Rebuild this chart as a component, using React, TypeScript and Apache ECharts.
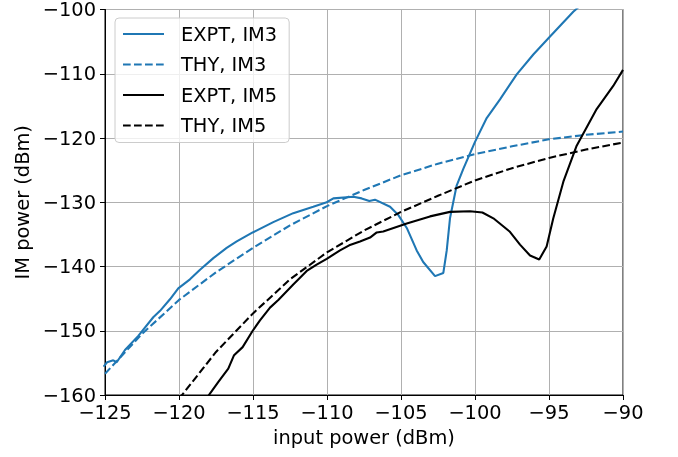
import React, { useEffect, useRef } from "react";
import * as echarts from "echarts";

const exptIm3X = [-125.1, -124.86, -124.44, -124.21, -123.65, -122.75, -121.74, -121.28, -120.61, -120.05, -119.26, -118.58, -117.68, -116.78, -116.1, -115.02, -113.63, -112.28, -110.93, -110.02, -109.57, -108.22, -107.66, -107.14, -106.76, -105.74, -105.18, -104.61, -103.94, -103.5, -102.7, -102.14, -101.91, -101.69, -101.24, -100.79, -100.0, -99.21, -98.31, -97.18, -96.06, -94.93, -93.36, -92.5];
const exptIm3Y = [-155.6, -154.9, -154.6, -154.9, -153.0, -150.8, -147.9, -146.9, -145.1, -143.4, -142.0, -140.5, -138.7, -137.1, -136.1, -134.7, -133.1, -131.7, -130.7, -130.0, -129.4, -129.15, -129.4, -129.8, -129.6, -130.7, -132.0, -134.0, -137.5, -139.3, -141.5, -141.0, -137.5, -132.5, -127.4, -124.8, -120.6, -116.9, -114.0, -110.1, -107.0, -104.2, -100.35, -98.6];

const thyIm3X = [-125, -122.5, -120, -117.5, -115, -112.5, -110, -107.5, -105, -102.5, -100, -97.5, -95, -92.5, -90];
const thyIm3Y = [-156.7, -150.5, -145.2, -140.9, -137.1, -133.6, -130.6, -128.1, -125.8, -124.0, -122.5, -121.3, -120.2, -119.5, -119.0];

const exptIm5X = [-118.1, -117.34, -116.67, -116.28, -115.7, -115.02, -114.53, -113.85, -113.29, -112.28, -111.37, -110.7, -110.02, -109.12, -108.5, -107.77, -107.09, -106.64, -106.2, -104.61, -103.04, -101.69, -100.34, -99.5, -98.76, -97.64, -96.96, -96.28, -95.66, -95.16, -94.71, -94.03, -93.13, -91.78, -90.66, -90.0];
const exptIm5Y = [-160.4, -157.95, -155.9, -153.8, -152.55, -150.0, -148.4, -146.4, -145.2, -142.8, -140.7, -139.7, -138.8, -137.5, -136.7, -136.1, -135.5, -134.7, -134.55, -133.3, -132.2, -131.5, -131.4, -131.6, -132.5, -134.6, -136.6, -138.3, -138.9, -136.9, -132.5, -126.8, -121.2, -115.5, -111.9, -109.4];

const thyIm5X = [-120, -117.5, -115, -112.5, -110, -107.5, -105, -102.5, -100, -97.5, -95, -92.5, -90];
const thyIm5Y = [-160.6, -153.3, -147.3, -142.0, -137.8, -134.4, -131.5, -129.0, -126.6, -124.7, -123.1, -121.8, -120.7];

const seriesNames = ["EXPT, IM3", "THY, IM3", "EXPT, IM5", "THY, IM5"];
const xTitle = "input power (dBm)";
const yTitle = "IM power (dBm)";

const zip = (xs: number[], ys: number[]) => xs.map((x, i) => [x, ys[i]]);
const fmt = (v: number) => String(v).replace("-", "\u2212");

export default function App() {
  const ref = useRef<HTMLDivElement>(null);
  useEffect(() => {
    if (!ref.current) return;
    const chart = echarts.init(ref.current, undefined, { renderer: "svg" });
    const font = "DejaVu Sans";
    const fs = 19.4;
    const blue = "#1f77b4";
    const mk = (name: string, data: number[][], color: string, dashed: boolean) => ({
      name,
      type: "line",
      data,
      symbol: "none",
      clip: true,
      lineStyle: { color, width: 2.08, type: dashed ? [7.7, 3.3] : "solid" },
      itemStyle: { color },
    });
    const axisCommon = {
      type: "value",
      nameLocation: "middle",
      nameTextStyle: { fontFamily: font, fontSize: fs, color: "#000" },
      axisLine: { show: true, lineStyle: { color: "#000", width: 1 } },
      axisTick: { show: true, length: 5, lineStyle: { color: "#000", width: 1 } },
      splitLine: { show: true, lineStyle: { color: "#b0b0b0", width: 1 } },
    };
    chart.setOption({
      animation: false,
      grid: { left: 105, right: 55, top: 6, bottom: 62, show: true, borderColor: "#000", borderWidth: 1 },
      legend: {
        orient: "vertical",
        left: 115,
        top: 18,
        itemWidth: 41,
        itemHeight: 14,
        itemGap: 10.5,
        padding: [6, 12, 7, 7],
        backgroundColor: "rgba(255,255,255,0.8)",
        borderColor: "#cccccc",
        borderWidth: 1,
        borderRadius: 4,
        itemStyle: { opacity: 0 },
        data: seriesNames,
        textStyle: { fontFamily: font, fontSize: fs, color: "#000", lineHeight: 20, padding: [0, 0, 0, 12] },
      },
      xAxis: {
        ...axisCommon,
        min: -125,
        max: -90,
        interval: 5,
        name: xTitle,
        nameGap: 33,
        axisLabel: { fontFamily: font, fontSize: fs, color: "#000", margin: 8, formatter: fmt },
      },
      yAxis: {
        ...axisCommon,
        min: -160,
        max: -100,
        interval: 10,
        name: yTitle,
        nameGap: 73,
        axisLabel: { fontFamily: font, fontSize: fs, color: "#000", margin: 9, formatter: fmt },
      },
      series: [
        mk(seriesNames[0], zip(exptIm3X, exptIm3Y), blue, false),
        mk(seriesNames[1], zip(thyIm3X, thyIm3Y), blue, true),
        mk(seriesNames[2], zip(exptIm5X, exptIm5Y), "#000", false),
        mk(seriesNames[3], zip(thyIm5X, thyIm5Y), "#000", true),
      ],
    });
    return () => chart.dispose();
  }, []);
  return <div ref={ref} style={{ position: "fixed", left: 0, top: 0, width: 678, height: 457 }} />;
}
